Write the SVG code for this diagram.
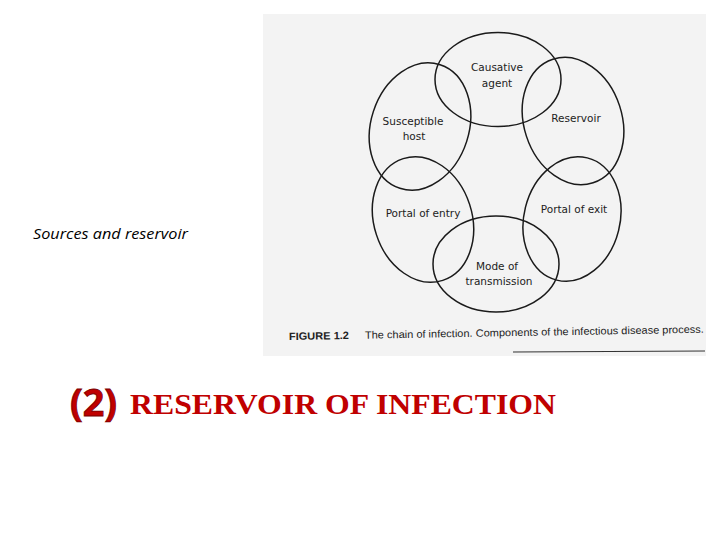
<svg xmlns="http://www.w3.org/2000/svg" width="720" height="540" viewBox="0 0 720 540">
<style>
.ring{fill:none;stroke:#1a1a1a;stroke-width:1.5}
.lbl{font-family:"DejaVu Sans","Liberation Sans",sans-serif;font-size:10.5px;fill:#222;text-anchor:middle}
.cap{font-family:"Liberation Sans",sans-serif;font-size:10.5px;fill:#222}
</style>
<rect width="720" height="540" fill="#ffffff"/>
<rect x="263" y="14" width="443" height="342" fill="#f3f3f3"/>
<g id="connectors"/>
<g id="causative-agent">
<ellipse class="ring" cx="498" cy="79.5" rx="63" ry="47"/>
<text class="lbl" x="497" y="71">Causative</text>
<text class="lbl" x="497" y="87">agent</text>
</g>
<g id="reservoir">
<ellipse class="ring" cx="573" cy="121" rx="49" ry="65" transform="rotate(-18 573 121)"/>
<text class="lbl" x="576" y="122">Reservoir</text>
</g>
<g id="portal-of-exit">
<ellipse class="ring" cx="572" cy="219" rx="48" ry="63" transform="rotate(14 572 219)"/>
<text class="lbl" x="574" y="213">Portal of exit</text>
</g>
<g id="mode-of-transmission">
<ellipse class="ring" cx="496" cy="264" rx="63" ry="48"/>
<text class="lbl" x="497" y="270">Mode of</text>
<text class="lbl" x="499" y="285">transmission</text>
</g>
<g id="portal-of-entry">
<ellipse class="ring" cx="423" cy="219.5" rx="49" ry="64" transform="rotate(-18 423 219.5)"/>
<text class="lbl" x="423" y="217">Portal of entry</text>
</g>
<g id="susceptible-host">
<ellipse class="ring" cx="420" cy="126.5" rx="49" ry="65" transform="rotate(18 420 126.5)"/>
<text class="lbl" x="413" y="125">Susceptible</text>
<text class="lbl" x="414" y="140">host</text>
</g>
<g transform="rotate(-1 289 340)">
<text class="cap" x="289" y="340" font-weight="bold" textLength="60" lengthAdjust="spacingAndGlyphs">FIGURE 1.2</text>
<text class="cap" x="365" y="340" textLength="339" lengthAdjust="spacingAndGlyphs">The chain of infection. Components of the infectious disease process.</text>
</g>
<line x1="513" y1="352" x2="705" y2="351" stroke="#333" stroke-width="1.2"/>
<text x="33" y="239" font-family="Open Sans,Liberation Sans,sans-serif" font-style="italic" font-size="14.5" fill="#000" textLength="155" lengthAdjust="spacingAndGlyphs">Sources and reservoir</text>
<text x="70" y="416" font-family="Open Sans,Liberation Sans,sans-serif" font-weight="bold" font-size="37" fill="#c00000" stroke="#7a0000" stroke-width="0.8" textLength="47" lengthAdjust="spacingAndGlyphs">(2)</text>
<text x="130" y="414" font-family="Liberation Serif,serif" font-weight="bold" font-size="30" fill="#c00000" textLength="426" lengthAdjust="spacingAndGlyphs">RESERVOIR OF INFECTION</text>
</svg>
